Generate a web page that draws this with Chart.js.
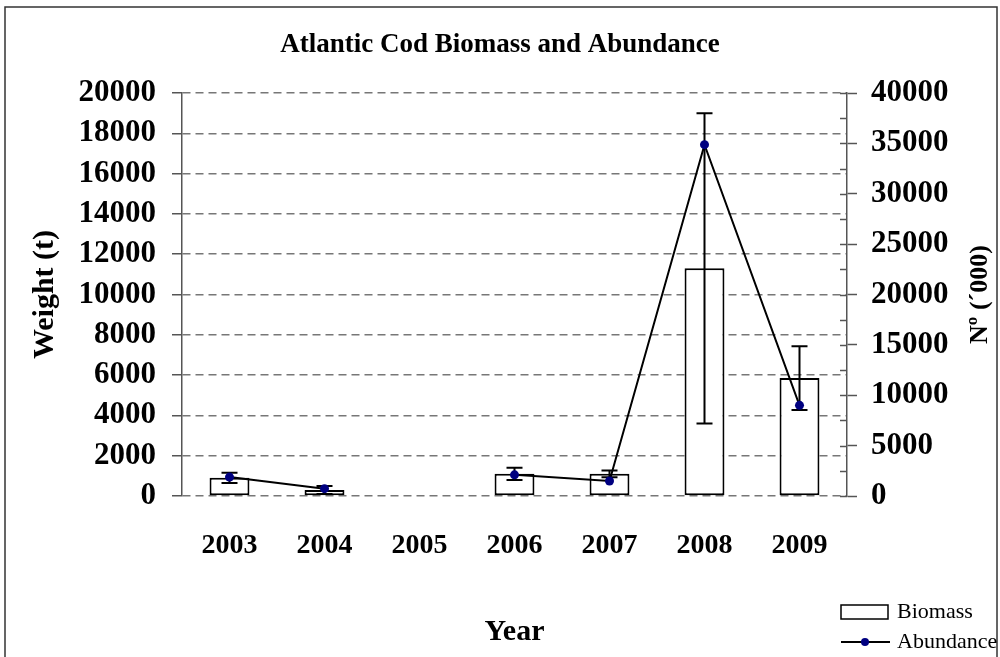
<!DOCTYPE html>
<html>
<head>
<meta charset="utf-8">
<title>Atlantic Cod Biomass and Abundance</title>
<script src="https://cdn.jsdelivr.net/npm/chart.js@4.4.1/dist/chart.umd.min.js"></script>
<style>
  html, body { margin: 0; padding: 0; background: #ffffff; }
  canvas { display: block; }
</style>
</head>
<body>
<canvas id="chart" width="1000" height="657"></canvas>
<script>
// Survey years
const years = ['2003', '2004', '2005', '2006', '2007', '2008', '2009'];
// Biomass, tonnes (left axis), with its error half-width
const biomass = [900, 300, null, 1100, 1100, 11300, 5850];
const biomassErr = [250, 200, null, 300, 170, 7700, 1580];
// Abundance, thousands of fish (right axis)
const abundance = [1880, 730, null, 2100, 1490, 34870, 9000];
// Axis tick settings
const weightTicks = { min: 0, max: 20000, step: 2000 };
const numberTicks = { min: 0, max: 40000, step: 5000 };

const SERIF = '"Liberation Serif", "Times New Roman", serif';
const plainNumber = (v) => String(v);

// Frame around the whole figure
const framePlugin = {
  id: 'frame',
  beforeDraw(chart) {
    const ctx = chart.ctx;
    ctx.save();
    ctx.fillStyle = '#ffffff';
    ctx.fillRect(0, 0, chart.width, chart.height);
    ctx.strokeStyle = '#333333';
    ctx.lineWidth = 1.5;
    ctx.strokeRect(5, 7, 992, 700);
    ctx.restore();
  }
};

// Vertical error bars on the biomass columns
const errorBarPlugin = {
  id: 'errorBars',
  afterDatasetDraw(chart, args) {
    if (args.index !== 0) return;
    const ctx = chart.ctx;
    const y = chart.scales.y;
    const meta = chart.getDatasetMeta(0);
    ctx.save();
    ctx.strokeStyle = '#000000';
    ctx.lineWidth = 2;
    meta.data.forEach((bar, i) => {
      const v = biomass[i], e = biomassErr[i];
      if (v === null || e === null) return;
      const x = bar.x;
      const yTop = y.getPixelForValue(v + e);
      const yBot = y.getPixelForValue(Math.max(v - e, 0));
      ctx.beginPath();
      ctx.moveTo(x, yTop); ctx.lineTo(x, yBot);
      ctx.moveTo(x - 8, yTop); ctx.lineTo(x + 8, yTop);
      ctx.moveTo(x - 8, yBot); ctx.lineTo(x + 8, yBot);
      ctx.stroke();
    });
    ctx.restore();
  }
};

// Inner tick marks of the right axis, its rotated title and the legend
const extrasPlugin = {
  id: 'extras',
  afterDraw(chart) {
    const ctx = chart.ctx;
    const y1 = chart.scales.y1;
    const area = chart.chartArea;
    ctx.save();
    ctx.strokeStyle = '#555555';
    ctx.lineWidth = 1.5;
    for (let v = numberTicks.min; v <= numberTicks.max; v += numberTicks.step / 2) {
      const py = Math.round(y1.getPixelForValue(v)) + 0.5;
      ctx.beginPath();
      ctx.moveTo(area.right - 7, py);
      ctx.lineTo(area.right, py);
      ctx.stroke();
    }

    // right axis title, reading upward
    ctx.save();
    ctx.translate(980, (area.top + area.bottom) / 2);
    ctx.rotate(-Math.PI / 2);
    ctx.fillStyle = '#000000';
    ctx.font = 'bold 26px ' + SERIF;
    ctx.textAlign = 'center';
    ctx.textBaseline = 'middle';
    ctx.fillText('Nº (´000)', 0, 0);
    ctx.restore();

    // legend
    const ds = chart.data.datasets;
    ctx.font = '22px ' + SERIF;
    ctx.textAlign = 'left';
    ctx.textBaseline = 'middle';
    ctx.fillStyle = '#ffffff';
    ctx.fillRect(841, 605, 47, 14);
    ctx.strokeStyle = '#000000';
    ctx.lineWidth = 1.5;
    ctx.strokeRect(841, 605, 47, 14);
    ctx.fillStyle = '#000000';
    ctx.fillText(ds[0].label, 897, 612);

    ctx.lineWidth = 2;
    ctx.beginPath();
    ctx.moveTo(841, 642); ctx.lineTo(890, 642);
    ctx.stroke();
    ctx.fillStyle = '#000080';
    ctx.beginPath();
    ctx.arc(865, 642, 4, 0, Math.PI * 2);
    ctx.fill();
    ctx.fillStyle = '#000000';
    ctx.fillText(ds[1].label, 897, 642);
    ctx.restore();
  }
};

new Chart(document.getElementById('chart'), {
  data: {
    labels: years,
    datasets: [
      {
        type: 'bar',
        label: 'Biomass',
        data: biomass,
        yAxisID: 'y',
        backgroundColor: '#ffffff',
        borderColor: '#000000',
        borderWidth: 2,
        borderSkipped: false,
        categoryPercentage: 1,
        barPercentage: 0.42,
        order: 2
      },
      {
        type: 'line',
        label: 'Abundance',
        data: abundance,
        yAxisID: 'y1',
        borderColor: '#000000',
        borderWidth: 2,
        tension: 0,
        spanGaps: false,
        pointRadius: 4.5,
        pointBackgroundColor: '#000080',
        pointBorderColor: '#000080',
        pointBorderWidth: 0,
        order: 1
      }
    ]
  },
  options: {
    responsive: false,
    animation: false,
    layout: { padding: 0 },
    plugins: {
      legend: { display: false },
      tooltip: { enabled: false },
      title: {
        display: true,
        text: 'Atlantic Cod Biomass and Abundance',
        color: '#000000',
        font: { family: SERIF, size: 27, weight: 'bold', lineHeight: 1.2 },
        padding: { top: 28.8, bottom: 31.8 }
      }
    },
    scales: {
      x: {
        position: 'bottom',
        offset: true,
        grid: { display: false, drawTicks: false },
        border: { display: false },
        ticks: {
          color: '#000000',
          padding: 33,
          maxRotation: 0,
          font: { family: SERIF, size: 28, weight: 'bold' }
        },
        title: {
          display: true,
          text: 'Year',
          color: '#000000',
          font: { family: SERIF, size: 30, weight: 'bold', lineHeight: 1.2 },
          padding: { top: 0, bottom: 7 }
        },
        afterFit(scale) { scale.height = 161; }
      },
      y: {
        position: 'left',
        min: weightTicks.min,
        max: weightTicks.max,
        ticks: {
          stepSize: weightTicks.step,
          callback: plainNumber,
          color: '#000000',
          padding: 16,
          font: { family: SERIF, size: 31, weight: 'bold' }
        },
        grid: {
          color: '#777777',
          lineWidth: 1.5,
          drawTicks: true,
          tickLength: 10,
          tickColor: '#555555',
          tickWidth: 1.5,
          tickBorderDash: []
        },
        border: { display: true, color: '#555555', width: 1.5, dash: [8, 5] },
        title: {
          display: true,
          text: 'Weight (t)',
          color: '#000000',
          font: { family: SERIF, size: 30, weight: 'bold', lineHeight: 1.2 },
          padding: { top: 27, bottom: 0 }
        },
        afterFit(scale) { scale.width = 182; }
      },
      y1: {
        position: 'right',
        min: numberTicks.min,
        max: numberTicks.max,
        ticks: {
          stepSize: numberTicks.step,
          callback: plainNumber,
          color: '#000000',
          padding: 14,
          font: { family: SERIF, size: 31, weight: 'bold' }
        },
        grid: {
          drawOnChartArea: false,
          drawTicks: true,
          tickLength: 10,
          tickColor: '#555555',
          tickWidth: 1.5
        },
        border: { display: true, color: '#555555', width: 1.5 },
        afterFit(scale) { scale.width = 153; }
      }
    }
  },
  plugins: [framePlugin, errorBarPlugin, extrasPlugin]
});
</script>
</body>
</html>
